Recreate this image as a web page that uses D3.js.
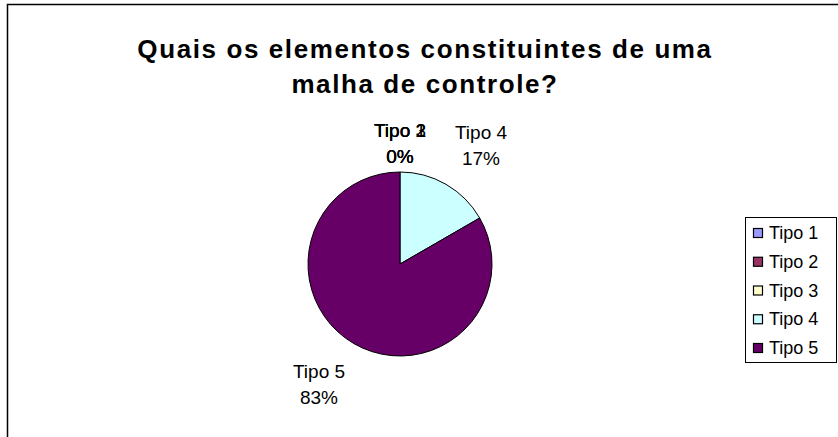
<!DOCTYPE html>
<html><head><meta charset="utf-8">
<script src="https://cdn.jsdelivr.net/npm/d3@7"></script>
<style>html,body{margin:0;padding:0;background:#fff;} svg{display:block;font-family:"Liberation Sans",Arial,sans-serif;}</style>
</head><body>
<svg id="c" width="838" height="437"></svg>
<script>
const titleLines = ["Quais os elementos constituintes de uma", "malha de controle?"];
const categories = ["Tipo 1", "Tipo 2", "Tipo 3", "Tipo 4", "Tipo 5"];
const values = [0, 0, 0, 1, 5];
const percentLabels = ["0%", "0%", "0%", "17%", "83%"];
const colors = ["#9999FF", "#993366", "#FFFFCC", "#CCFFFF", "#660066"];

const svg = d3.select("#c");
// chart border
svg.append("rect").attr("x", 7.5).attr("y", 4.5).attr("width", 860).attr("height", 460)
  .attr("fill", "#fff").attr("stroke", "#000").attr("stroke-width", 1.5);

// title
const title = svg.append("text").attr("text-anchor", "middle").attr("font-weight", "bold")
  .attr("font-size", 26).attr("letter-spacing", 1.6).attr("fill", "#000");
titleLines.forEach((t, i) => title.append("tspan").attr("x", 425).attr("y", 58 + i * 35).text(t));

const cx = 400, cy = 264, r = 92;
const pie = d3.pie().sort(null).value(d => d)(values);
const arc = d3.arc().innerRadius(0).outerRadius(r);
const g = svg.append("g").attr("transform", `translate(${cx},${cy})`);
g.selectAll("path").data(pie).join("path")
  .attr("d", arc).attr("fill", (d, i) => colors[i])
  .attr("stroke", "#000").attr("stroke-width", 1);

// labels
pie.forEach((d, i) => {
  const a = (d.startAngle + d.endAngle) / 2;
  const rx = 162, ry = d.value === 0 ? 121 : 138;
  const x = Math.sin(a) * rx, y = -Math.cos(a) * ry;
  const t = g.append("text").attr("text-anchor", "middle").attr("font-size", 19).attr("fill", "#000");
  t.append("tspan").attr("x", x).attr("y", y - 6).text(categories[i]);
  t.append("tspan").attr("x", x).attr("y", y + 20).text(percentLabels[i]);
});

// legend
const lg = svg.append("g");
lg.append("rect").attr("x", 745.5).attr("y", 217.5).attr("width", 91).attr("height", 145)
  .attr("fill", "#fff").attr("stroke", "#000").attr("stroke-width", 1);
const ly = d3.scalePoint().domain(categories).range([233, 348]);
categories.forEach((c, i) => {
  lg.append("rect").attr("x", 753.5).attr("y", ly(c) - 4.5).attr("width", 9).attr("height", 9)
    .attr("fill", colors[i]).attr("stroke", "#000").attr("stroke-width", 1.2);
  lg.append("text").attr("x", 769).attr("y", ly(c) + 6).attr("font-size", 18).text(c);
});
</script>
</body></html>
